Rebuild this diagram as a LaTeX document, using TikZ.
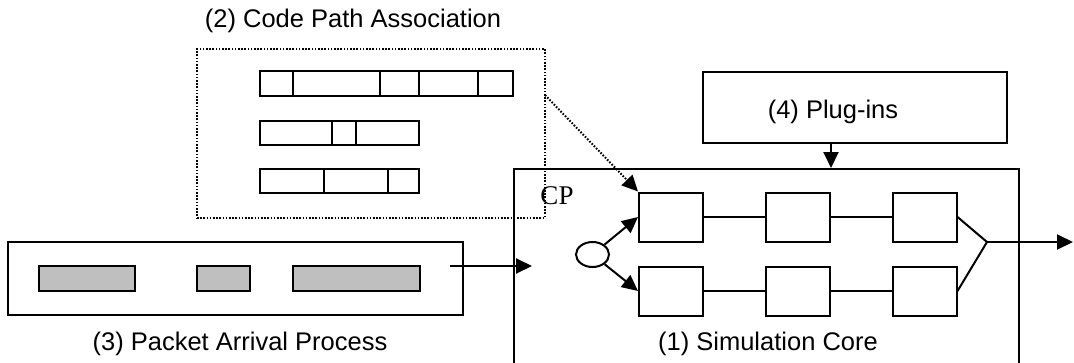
\documentclass[tikz,border=0pt]{standalone}
\usepackage{fontspec}
\setmainfont{Liberation Sans}
\newfontfamily\cpfont{Liberation Serif}
\usetikzlibrary{arrows.meta,shapes.geometric,positioning}

\begin{document}
\begin{tikzpicture}[
      x=1pt, y=-1pt,%
      line width=2pt,%
      font=\fontsize{25.5}{30}\selectfont,%
      box/.style={draw, rectangle, inner sep=0pt},%
      pkt/.style={box, fill=black!25, minimum height=25},%
      stage/.style={box, minimum width=64, minimum height=49},%
      dotline/.style={dash pattern=on 1.6pt off 1.6pt},%
      arr/.style={-{Triangle[length=16pt,width=15pt]}},%
      lbl/.style={inner sep=0pt}%
    ]
    \clip (0,0) rectangle (1074,362);

    %% Code path association
    \node[box, dotline, minimum width=348, minimum height=169] (cpa) at (371,133.5) {};
    \node[lbl] (cpatitle) at (353,21) {(2) Code Path Association};
    \draw (260,71) rectangle (513,96);
    \foreach \x in {293,380,419,478} \draw (\x,71) -- (\x,96);
    \draw (260,121) rectangle (419,145);
    \foreach \x in {332,356} \draw (\x,121) -- (\x,145);
    \draw (260,169) rectangle (419,193);
    \foreach \x in {324,388} \draw (\x,169) -- (\x,193);

    %% Plug-ins
    \node[box, minimum width=304, minimum height=71] (plugins) at (855,107.5) {};
    \node[lbl] (plugtxt) at (833,112) {(4) Plug-ins};

    %% Simulation core
    \node[box, minimum width=505, minimum height=214, anchor=north west] (core) at (513,168) {};
    \node[lbl] (coretitle) at (768,344) {(1) Simulation Core};
    \node[lbl, font=\cpfont\fontsize{27}{30}\selectfont] (cp) at (557,196) {CP};

    \foreach \r/\y in {1/217, 2/291} {
      \foreach \c/\x in {1/671, 2/798, 3/924.5}
        \node[stage] (b\r\c) at (\x,\y) {};
      \draw (b\r1) -- (b\r2) (b\r2) -- (b\r3);
    }
    \node[draw, ellipse, minimum width=33, minimum height=25, inner sep=0pt] (split) at (592.5,254.5) {};
    \draw[arr] (split) -- (b11.west);
    \draw[arr] (split) -- (b21.west);

    \coordinate (merge) at (987,242);
    \coordinate (out) at (1073,242);
    \draw (b13.east) -- (merge) -- (b23.east);
    \draw[arr] (merge) -- (out);

    %% Packet arrival process
    \node[box, minimum width=455, minimum height=73] (arrival) at (235.5,278.5) {};
    \node[lbl] (arrivaltitle) at (240,344) {(3) Packet Arrival Process};
    \node[pkt, minimum width=96] (p1) at (87,278.5) {};
    \node[pkt, minimum width=53] (p2) at (223.5,278.5) {};
    \node[pkt, minimum width=127] (p3) at (356.5,278.5) {};

    %% Connections between the parts
    \coordinate (feed) at (450,266);
    \coordinate (corein) at (532,266);
    \draw[arr] (feed) -- (corein);
    \coordinate (cpaout) at (545,95);
    \draw[dotline, arr] (cpaout) -- (b11.north west);
    \draw[arr] (plugins.south -| b12.east) -- (core.north -| b12.east);
  \end{tikzpicture}
\end{document}
